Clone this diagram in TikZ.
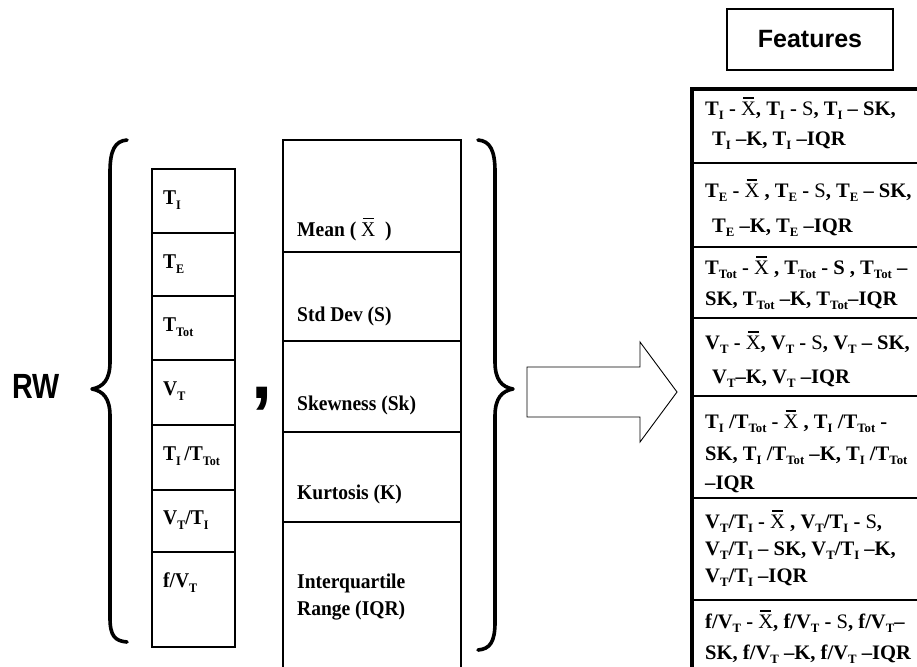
\documentclass[tikz,border=0pt]{standalone}
\usepackage{fontspec}
\setmainfont{Liberation Serif}[FakeStretch=0.93]
\newfontfamily\serifn{Liberation Serif}[Ligatures=TeX]
\newfontfamily\sansf{Liberation Sans}
\newfontfamily\sansrw{Liberation Sans}[FakeStretch=0.82]
\newcommand\sbs[1]{\raisebox{-0.24em}{\scalebox{0.62}{#1}}}
\newcommand\xb{\mbox{\mdseries\rlap{\hspace{0.1em}\rule[0.8em]{0.52em}{0.06em}}X}}
\tikzset{
  outerbox/.style={draw, line width=2.6pt},
  divline/.style={line width=1.2pt},
  thickline/.style={line width=3.2pt},
  celltxt/.style={anchor=base west, inner sep=0pt, font=\fontsize{21}{25}\selectfont\bfseries},
  feattxt/.style={anchor=base west, inner sep=0pt, font=\serifn\fontsize{20.6}{24}\selectfont\bfseries},
  bracepath/.style={line width=3.6pt, line cap=round, line join=round},
  arrowshape/.style={draw, line width=0.9pt, fill=white}
}
\begin{document}
\begin{tikzpicture}[x=1pt, y=-1pt]
\path[use as bounding box] (0,0) rectangle (917,666);
\clip (0,0) rectangle (917,666);
\fill[white] (0,0) rectangle (917,666);

% RW label
\node[anchor=base west, inner sep=0pt, font=\sansrw\bfseries\fontsize{35}{35}\selectfont] (rw) at (12,398) {RW};

% left brace
\draw[bracepath] (127,140) .. controls (115,141) and (110,150) .. (110,172) -- (110,362)
  .. controls (110,380) and (103,387) .. (92,389) .. controls (103,391) and (110,398) .. (110,416)
  -- (110,618) .. controls (110,636) and (115,641) .. (127,642);

% left column
\foreach \y in {233,296,360,425,490,552} \draw[divline] (152,\y) -- (235,\y);
\draw[outerbox] (152,169) rectangle (235,647);
\node[celltxt] (l1) at (163,204) {T\sbs{I}};
\node[celltxt] (l2) at (163,268) {T\sbs{E}};
\node[celltxt] (l3) at (163,331) {T\sbs{Tot}};
\node[celltxt] (l4) at (163,395) {V\sbs{T}};
\node[celltxt] (l5) at (163,460) {T\sbs{I}\,/T\sbs{Tot}};
\node[celltxt] (l6) at (163,524) {V\sbs{T}/T\sbs{I}};
\node[celltxt] (l7) at (163,587) {f/V\sbs{T}};

% comma
\node[anchor=base, inner sep=0pt, font=\sansf\bfseries\fontsize{76}{76}\selectfont] (comma) at (262,398) {,};

% middle column
\foreach \y in {252,341,432,522} \draw[divline] (283,\y) -- (461,\y);
\draw[outerbox] (283,140) rectangle (461,680);
\node[celltxt] (m1) at (297,236) {Mean ( \xb\ \ )};
\node[celltxt] (m2) at (297,321) {Std Dev (S)};
\node[celltxt] (m3) at (297,410) {Skewness (Sk)};
\node[celltxt] (m4) at (297,499) {Kurtosis (K)};
\node[celltxt] (m5) at (297,588) {Interquartile};
\node[celltxt] (m6) at (297,615) {Range (IQR)};

% right brace
\draw[bracepath] (478,140) .. controls (490,141) and (495,150) .. (495,172) -- (495,362)
  .. controls (495,380) and (502,387) .. (513,389) .. controls (502,391) and (495,398) .. (495,416)
  -- (495,622) .. controls (495,642) and (490,649) .. (478,650);

% block arrow
\draw[arrowshape] (527,367) -- (640,367) -- (640,342) -- (677,392) -- (640,442) -- (640,417) -- (527,417) -- cycle;

% Features box
\node[draw, line width=2.6pt, minimum width=166pt, minimum height=61pt, inner sep=0pt,
      font=\sansf\bfseries\fontsize{25}{25}\selectfont] (feat) at (810,39.5) {Features};

% features table
\foreach \y in {163,247,318,396,498,600} \draw[divline] (692,\y) -- (930,\y);
\draw[thickline] (930,89) -- (692,89) -- (692,680);

\node[feattxt] (r1a) at (705,115) {T\sbs{I} - \xb, T\sbs{I} - {\mdseries S}, T\sbs{I} -- SK,};
\node[feattxt] (r1b) at (712,145) {T\sbs{I} --K, T\sbs{I} --IQR};
\node[feattxt] (r2a) at (705,197) {T\sbs{E} - \xb\ , T\sbs{E} - {\mdseries S}, T\sbs{E} -- SK,};
\node[feattxt] (r2b) at (712,232) {T\sbs{E} --K, T\sbs{E} --IQR};
\node[feattxt] (r3a) at (705,274) {T\sbs{Tot} - \xb\ , T\sbs{Tot} - S , T\sbs{Tot} --};
\node[feattxt] (r3b) at (705,305) {SK, T\sbs{Tot} --K, T\sbs{Tot}--IQR};
\node[feattxt] (r4a) at (705,349) {V\sbs{T} - \xb, V\sbs{T} - {\mdseries S}, V\sbs{T} -- SK,};
\node[feattxt] (r4b) at (712,383) {V\sbs{T}--K, V\sbs{T} --IQR};
\node[feattxt] (r5a) at (705,428) {T\sbs{I} /T\sbs{Tot} - \xb\ , T\sbs{I} /T\sbs{Tot} -};
\node[feattxt] (r5b) at (705,460) {SK, T\sbs{I} /T\sbs{Tot} --K, T\sbs{I} /T\sbs{Tot}};
\node[feattxt] (r5c) at (705,489) {--IQR};
\node[feattxt] (r6a) at (705,528) {V\sbs{T}/T\sbs{I} - \xb\ , V\sbs{T}/T\sbs{I} - {\mdseries S},};
\node[feattxt] (r6b) at (705,555) {V\sbs{T}/T\sbs{I} -- SK, V\sbs{T}/T\sbs{I} --K,};
\node[feattxt] (r6c) at (705,582) {V\sbs{T}/T\sbs{I} --IQR};
\node[feattxt] (r7a) at (705,628) {f/V\sbs{T} - \xb, f/V\sbs{T} - {\mdseries S}, f/V\sbs{T}--};
\node[feattxt] (r7b) at (705,659) {SK, f/V\sbs{T} --K, f/V\sbs{T} --IQR};
\end{tikzpicture}
\end{document}
